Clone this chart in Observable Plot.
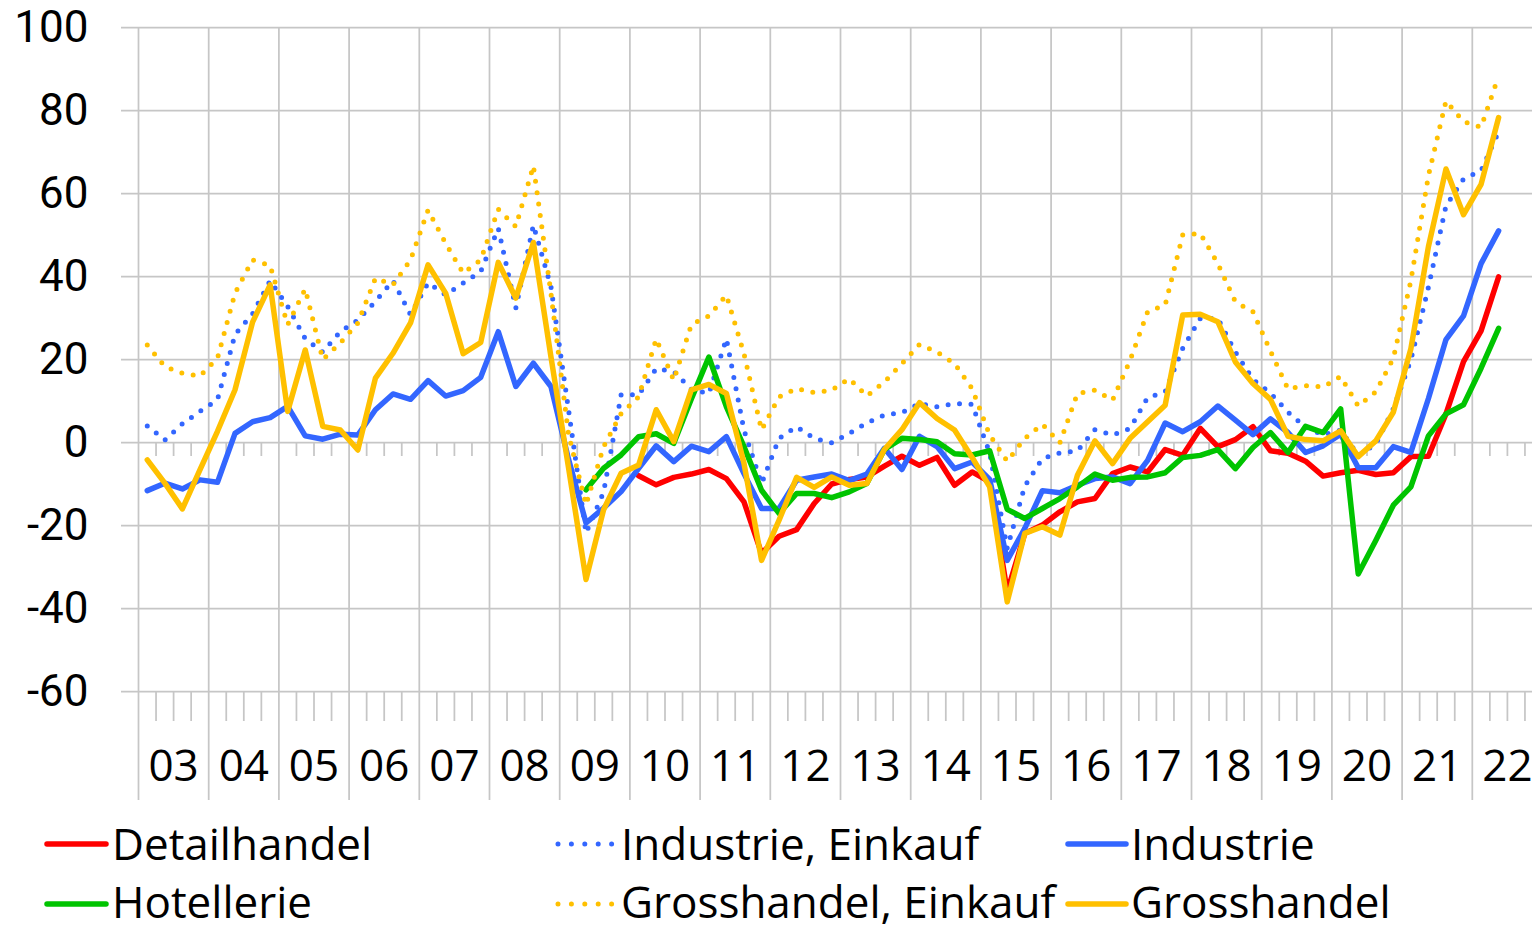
<!DOCTYPE html>
<html>
<head>
<meta charset="utf-8">
<script src="https://cdn.jsdelivr.net/npm/d3@7"></script>
<script src="https://cdn.jsdelivr.net/npm/@observablehq/plot@0.6"></script>
<style>
  html, body { margin: 0; padding: 0; background: #fff; overflow: hidden; }
  #chart svg { display: block; }
</style>
</head>
<body>
<div id="chart"></div>
<script>
// Year labels (quarterly data 2003Q1 .. 2022Q2, axis runs to 2022Q4)
const years = ["03","04","05","06","07","08","09","10","11","12","13","14","15","16","17","18","19","20","21","22"];
const yTicks = [-60, -40, -20, 0, 20, 40, 60, 80, 100];

const detailhandel = [
  null,null,null,null, null,null,null,null, null,null,null,null, null,null,null,null,
  null,null,null,null, null,null,null,null, null,null,null,null,
  -8, -10.2, -8.4, -7.6, -6.5, -8.7, -14.3, -26.7, -22.6, -21, -14.7, -10,
  -8.9, -8.3, -5.7, -3.3, -5.5, -3.6, -10.3, -7.1, -9.5, -36, -21.9, -19.9,
  -16.7, -14.3, -13.5, -7.5, -5.9, -7.1, -1.7, -3.1, 3.4, -1, 0.7, 3.8,
  -2, -2.6, -4.5, -8.1, -7.3, -6.7, -7.7, -7.3, -3.4, -3.3, 6.9, 19.5, 26.9, 39.9
];
const industrieEinkauf = [
  4, 0.6, 4.5, 7.5, 10.3, 26, 31, 39, 32.8, 25, 21.8, 26.7, 29.5, 34, 39, 30.8,
  38.5, 35.6, 38.4, 41.2, 51.6, 32.4, 52.4, 37.6, 8, -21.8, -12, 11.5,
  11.5, 17.8, 17.1, 12.8, 11.8, 25, 3, -9.9, 1, 3.8, 1, -0.1,
  2.2, 4.7, 6.6, 7.2, 9.4, 8.6, 9.4, 9.2, -2.5, -25.5, -10.5, -3.9,
  -2.5, -2, 3.1, 1.8, 3.4, 10.8, 12.2, 22.7, 29.9, 29.9, 21.8, 15.2,
  11.9, 7.3, 3.7, 1.8, 3, -3.1, -0.4, 8.1, 19.9, 37.4, 57, 63.5, 65.5, 74.9
];
const industrie = [
  -11.6, -9.8, -11.2, -9, -9.6, 2.2, 5, 6, 8.7, 1.6, 0.8, 2, 1.8, 7.9, 11.7, 10.4,
  14.9, 11.2, 12.5, 15.7, 26.7, 13.5, 19.1, 13.5, -4, -19.4, -15.8, -11.8,
  -6.2, -0.8, -4.6, -0.9, -2.2, 1.4, -7.5, -15.9, -15.9, -9.1, -8.3, -7.6,
  -9.2, -7.6, -1.4, -6.5, 1.5, -1, -6.3, -4.7, -8.9, -28.4, -20.7, -11.6,
  -12.1, -10.3, -8.7, -8.3, -9.9, -4.3, 4.7, 2.6, 5, 8.8, 5.4, 1.9,
  5.7, 2.4, -2.4, -0.8, 2, -6.1, -6.1, -1, -2.4, 10.6, 24.8, 30.5, 43.1, 51
];
const hotellerie = [
  null,null,null,null, null,null,null,null, null,null,null,null, null,null,null,null,
  null,null,null,null, null,null,null,null, null,
  -11.4, -6.2, -3,
  1.4, 2.1, -0.2, 10.5, 20.6, 8.6, -1, -11.5, -17.1, -12.3, -12.3, -13.3,
  -11.9, -9.9, -1.7, 1, 0.7, 0.2, -2.7, -3, -2, -16.1, -18.3, -15.9,
  -13.5, -10.7, -7.6, -9.1, -8.4, -8.3, -7.3, -3.6, -3.1, -1.7, -6.3, -1.2,
  2.4, -2.4, 3.9, 2.4, 8.1, -31.7, -23.6, -15.1, -10.7, 1.6, 6.9, 9.1, 17.9, 27.5
];
const grosshandelEinkauf = [
  23.5, 18.3, 16.7, 16, 20.3, 36, 44, 42.6, 28.4, 37, 20, 24, 28.8, 39.6, 38, 44,
  56, 48, 40.8, 44, 56.2, 52, 66.7, 36, 2, -15, -1, 7,
  11, 25, 15, 28.4, 30.5, 35.5, 21.4, 3, 11, 13, 12, 12.6,
  15.4, 11.2, 14.6, 19, 23.6, 21.8, 19, 13, 1.8, -4.5, 1, 4.4,
  -0.1, 11.8, 12.6, 10.2, 19.8, 31.5, 33.1, 50, 50.4, 43.1, 33.9, 31.5,
  22, 12.9, 13.7, 13.4, 15.9, 8.8, 12.2, 20.3, 39, 64.3, 82.3, 77.3, 76, 88.3
];
const grosshandel = [
  -4.2, -9.8, -16, -6.6, 2.7, 12.7, 29, 38, 7.5, 22.3, 3.9, 3, -1.8, 15.5, 21.5, 28.8,
  42.8, 36, 21.4, 24.1, 43.4, 34.8, 48.2, 20.7, -6, -33, -16.2, -7.4,
  -5.4, 7.9, 0.2, 12.7, 14, 11.8, -5, -28.4, -18.7, -8.4, -10.8, -8.3,
  -10.3, -9.9, -1.7, 3.1, 9.6, 5.8, 3, -3.6, -10.7, -38.4, -21.9, -20.3,
  -22.3, -7.9, 0.4, -5.1, 1, 5, 9, 30.7, 30.9, 29.1, 19.4, 14.2,
  10.4, 1.5, 0.7, 0.4, 2.8, -3.4, 0.4, 7.3, 22.6, 47.2, 65.9, 54.9, 62.2, 78.3
];

const RED = "#ff0000", BLUE = "#3366ff", GREEN = "#00c400", GOLD = "#ffc000";
const series = [
  {name: "Detailhandel", values: detailhandel, color: RED, dotted: false},
  {name: "Industrie, Einkauf", values: industrieEinkauf, color: BLUE, dotted: true},
  {name: "Industrie", values: industrie, color: BLUE, dotted: false},
  {name: "Hotellerie", values: hotellerie, color: GREEN, dotted: false},
  {name: "Grosshandel, Einkauf", values: grosshandelEinkauf, color: GOLD, dotted: true},
  {name: "Grosshandel", values: grosshandel, color: GOLD, dotted: false}
];

const nQuarters = years.length * 4;
const yearBounds = d3.range(0, nQuarters + 1, 4);
const quarterBounds = d3.range(0, nQuarters).filter(q => q % 4 !== 0);
const yearCenters = years.map((_, k) => 4 * k + 2);
const GRID = "#c6c6c6";
const FONT = "'Open Sans', 'Noto Sans', sans-serif";
const NUMFONT = "Roboto, 'Open Sans', sans-serif";

const lineMarks = series.map(s => {
  const rows = s.values.map((v, i) => ({q: i + 0.5, v: v == null ? NaN : v}));
  return Plot.line(rows, {
    x: "q", y: "v", stroke: s.color,
    strokeWidth: s.dotted ? 5 : 5.5,
    strokeLinejoin: "round", strokeLinecap: "round",
    strokeDasharray: s.dotted ? "0 11.5" : null
  });
});

const chart = Plot.plot({
  width: 1532,
  height: 810,
  marginTop: 27,
  marginBottom: 119,
  marginLeft: 138,
  marginRight: 0,
  style: {fontFamily: FONT, fontSize: "44px", color: "#000", background: "#fff"},
  x: {domain: [0, nQuarters], range: [138, 1542]},
  y: {domain: [-60, 100]},
  marks: [
    Plot.ruleY(yTicks, {stroke: GRID, strokeWidth: 1.75, insetLeft: -17}),
    Plot.ruleX(yearBounds, {y1: 100, y2: -60, stroke: GRID, strokeWidth: 1.75, insetBottom: -109}),
    Plot.ruleX(quarterBounds, {y1: 0, y2: 0, stroke: GRID, strokeWidth: 1.75, insetBottom: -14}),
    Plot.ruleX(quarterBounds, {y1: -60, y2: -60, stroke: GRID, strokeWidth: 1.75, insetBottom: -30}),
    Plot.axisY({ticks: yTicks, tickFormat: d => String(d), tickSize: 0, tickPadding: 50, fontSize: 44, fontFamily: NUMFONT, label: null, fill: "#000"}),
    Plot.axisX({ticks: yearCenters, tickFormat: d => years[(d - 2) / 4], tickSize: 0, tickPadding: 58, fontSize: 44, label: null, fill: "#000"}),
    ...lineMarks
  ]
});
document.getElementById("chart").appendChild(chart);

// Legend (below the plot SVG)
const legendPos = [
  {col: 0, row: 0}, {col: 1, row: 0}, {col: 2, row: 0},
  {col: 0, row: 1}, {col: 1, row: 1}, {col: 2, row: 1}
];
const colX = [{x0: 47, x1: 106, tx: 112}, {x0: 558, x1: 612, tx: 621}, {x0: 1068, x1: 1126, tx: 1131}];
const rowY = [{ly: 34, ty: 50}, {ly: 94, ty: 108}];
const legend = d3.select("#chart").append("svg")
  .attr("width", 1532).attr("height", 121)
  .style("display", "block")
  .style("font-family", FONT).style("font-size", "44px");
series.forEach((s, k) => {
  const p = legendPos[k], c = colX[p.col], r = rowY[p.row];
  legend.append("line")
    .attr("x1", c.x0).attr("x2", c.x1).attr("y1", r.ly).attr("y2", r.ly)
    .attr("stroke", s.color).attr("stroke-width", s.dotted ? 5 : 5.5)
    .attr("stroke-linecap", "round")
    .attr("stroke-dasharray", s.dotted ? "0 13.4" : null);
  legend.append("text").attr("x", c.tx).attr("y", r.ty).attr("fill", "#000").text(s.name);
});
</script>
</body>
</html>
